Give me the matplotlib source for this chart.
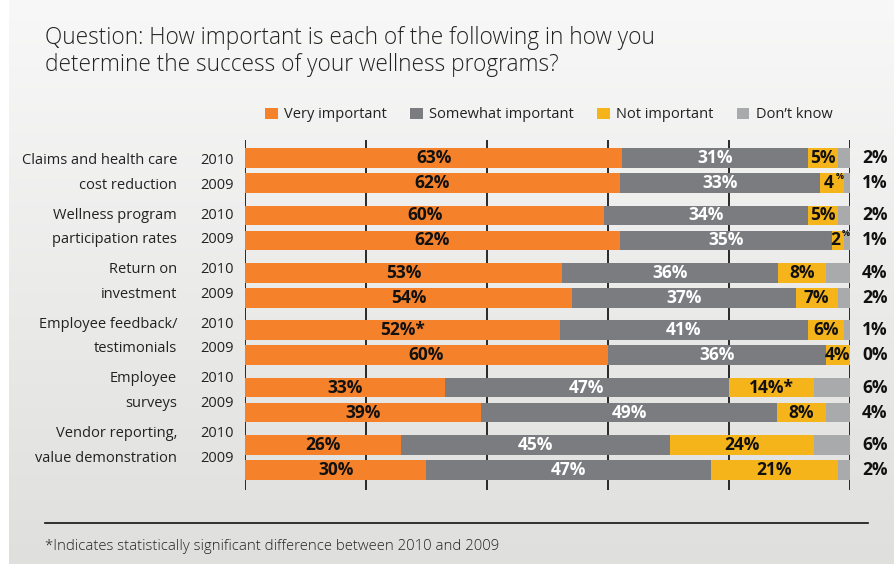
import numpy as np
import matplotlib
matplotlib.use("Agg")
import matplotlib.pyplot as plt
from matplotlib.patches import Patch

plt.rcParams['font.family'] = ['Open Sans', 'DejaVu Sans']

categories = [
    ("Claims and health care", "cost reduction"),
    ("Wellness program", "participation rates"),
    ("Return on", "investment"),
    ("Employee feedback/", "testimonials"),
    ("Employee", "surveys"),
    ("Vendor reporting,", "value demonstration"),
]
years = ["2010", "2009"]

very_2010 = [63, 60, 53, 52, 33, 26]
very_2009 = [62, 62, 54, 60, 39, 30]
some_2010 = [31, 34, 36, 41, 47, 45]
some_2009 = [33, 35, 37, 36, 49, 47]
not_2010 = [5, 5, 8, 6, 14, 24]
not_2009 = [4, 2, 7, 4, 8, 21]
dk_2010 = [2, 2, 4, 1, 6, 6]
dk_2009 = [1, 1, 2, 0, 4, 2]

# (group, year index, segment) -> suffix for significant differences
starred = {(3, 0, 0): "*", (4, 0, 2): "*"}
# labels where the percent sign is set small (segment too narrow)
small_pct = {(0, 1, 2), (1, 1, 2)}

series_names = ["Very important", "Somewhat important", "Not important", "Don\u2019t know"]
colors = ["#f5822a", "#7b7c80", "#f5b41a", "#a9aaac"]
label_colors = ["#111111", "white", "#111111", "#111111"]

W, H = 894, 564
fig = plt.figure(figsize=(W / 100, H / 100), dpi=100)
fig.patch.set_facecolor("white")

# soft vertical gradient panel behind everything
bg = fig.add_axes([9 / W, 0, 1 - 9 / W, 1], zorder=-10)
grad = np.linspace(0, 1, 256).reshape(-1, 1)
top = np.array([0.972, 0.972, 0.972])
bot = np.array([0.875, 0.875, 0.868])
img = top + (bot - top) * grad[:, :, None]
bg.imshow(img, aspect="auto", extent=[0, 1, 0, 1], origin="upper")
bg.axis("off")

# axes in pixel-like y units (top = 140, bottom = 490)
ax = fig.add_axes([245 / W, 1 - 490 / H, (850 - 245) / W, (490 - 140) / H])
ax.set_xlim(0, 100)
ax.set_ylim(490, 140)
ax.patch.set_alpha(0)
for s in ax.spines.values():
    s.set_visible(False)
ax.set_xticks([0, 20, 40, 60, 80, 100])
ax.set_yticks([])
ax.tick_params(length=0, labelbottom=False)
ax.grid(axis="x", color="#1a1a1a", lw=1.3)
ax.set_axisbelow(True)

bar_h = 19.7
data = [
    [very_2010, some_2010, not_2010, dk_2010],
    [very_2009, some_2009, not_2009, dk_2009],
]

for g, (line1, line2) in enumerate(categories):
    for yi in range(2):
        yc = 158 + g * 57.4 + yi * 25
        ly = 160.5 + g * 54.6 + yi * 24.6
        vals = [series[g] for series in data[yi]]
        total = sum(vals)
        left = 0
        for k, v in enumerate(vals):
            w = v / total * 100
            ax.barh(yc, w, left=left, height=bar_h, color=colors[k], lw=0, zorder=2)
            cx = left + w / 2
            if k < 3:
                key = (g, yi, k)
                if key in small_pct:
                    ax.annotate(str(v), (cx, yc), xytext=(-2, 0), textcoords="offset points",
                                ha="center", va="center", fontsize=12.5, fontweight="bold",
                                color=label_colors[k], zorder=3)
                    ax.annotate("%", (cx, yc), xytext=(2.5, 1.5), textcoords="offset points",
                                ha="left", va="bottom", fontsize=6.5, fontweight="bold",
                                color=label_colors[k], zorder=3, annotation_clip=False)
                else:
                    ax.text(cx, yc, f"{v}%{starred.get(key, '')}", ha="center", va="center",
                            fontsize=12.5, fontweight="bold", color=label_colors[k], zorder=3)
            left += w
        ax.text(102, yc, f"{vals[3]}%", ha="left", va="center", fontsize=12.5,
                fontweight="bold", color="#111111", clip_on=False)
        ax.text(-1.9, ly, years[yi], ha="right", va="center", fontsize=10.5,
                color="#222222", clip_on=False)
        ax.text(-11.2, ly, line1 if yi == 0 else line2, ha="right", va="center",
                fontsize=10.5, color="#222222", clip_on=False)

# title
title_font = dict(family="Open Sans", weight="light")
fig.text(45 / W, 1 - 38.5 / H, "Question: How important is each of the following in how you",
         fontsize=16.3, color="#222222", va="center", **title_font)
fig.text(45 / W, 1 - 65 / H, "determine the success of your wellness programs?",
         fontsize=16.3, color="#222222", va="center", **title_font)

# legend
handles = [Patch(facecolor=c, edgecolor="none", label=n) for c, n in zip(colors, series_names)]
fig.legend(handles=handles, loc="center", bbox_to_anchor=(549 / W, 1 - 115 / H), ncol=4,
           frameon=False, fontsize=10.5, handlelength=0.85, handleheight=0.85,
           handletextpad=0.45, columnspacing=1.6, labelcolor="#222222")

# footnote
fig.add_artist(plt.Line2D([45 / W, 868 / W], [1 - 523 / H, 1 - 523 / H], color="#111111", lw=1.2))
fig.text(45 / W, 1 - 546 / H, "*Indicates statistically significant difference between 2010 and 2009",
         fontsize=10.7, color="#222222", va="center", family="Open Sans", weight="light")

fig.savefig("out.png", dpi=100)
